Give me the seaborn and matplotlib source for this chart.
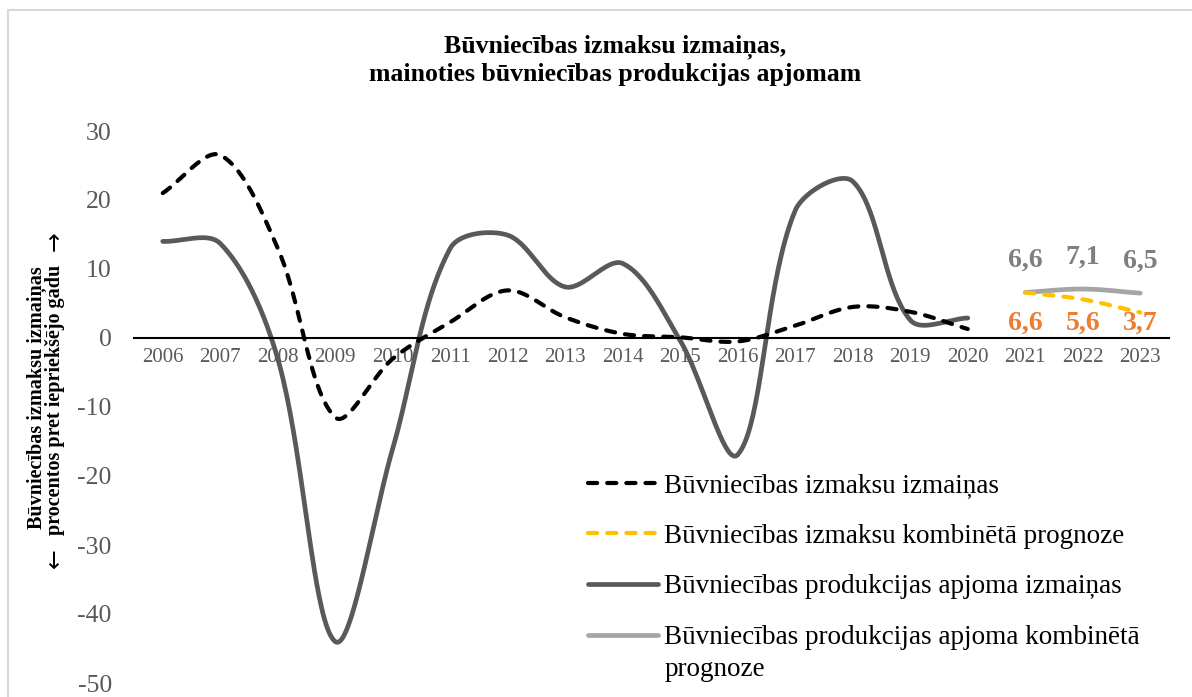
import numpy as np
import matplotlib
matplotlib.use("Agg")
import matplotlib.pyplot as plt
import seaborn as sns
from matplotlib.lines import Line2D
from matplotlib.patches import Rectangle

# Dati (procentos pret iepriekšējo gadu)
years = [str(y) for y in range(2006, 2024)]

cost_change = [21.0, 26.5, 13.0, -11.5, -3.0, 2.3, 6.9, 3.0, 0.6, 0.1,
               -0.5, 1.8, 4.5, 3.8, 1.3]          # 2006-2020
cost_forecast = [6.6, 5.6, 3.7]                   # 2021-2023
output_change = [14.0, 13.7, -3.0, -44.0, -16.0, 13.0, 14.9, 7.4, 10.8, -0.4,
                 -16.9, 18.5, 22.7, 2.6, 2.9]     # 2006-2020
output_forecast = [6.6, 7.1, 6.5]                 # 2021-2023

labels = ["Būvniecības izmaksu izmaiņas",
          "Būvniecības izmaksu kombinētā prognoze",
          "Būvniecības produkcijas apjoma izmaiņas",
          "Būvniecības produkcijas apjoma kombinētā"]
label_wrap = "prognoze"

W, H = 1192, 697
PX_X = 57.5      # pikseļi uz vienu gadu
PX_Y = 6.9       # pikseļi uz vienu procentpunktu


def smooth(values, start, n=40):
    # Excel stila gludā līnija: Bezier ar pieskarēm, kas mērogotas pēc posmu garuma
    p = np.column_stack([(start + np.arange(len(values))) * PX_X,
                         np.asarray(values, dtype=float) * PX_Y])
    m = len(p)
    xs, ys = [], []
    for i in range(m - 1):
        a, b = p[i], p[i + 1]
        pa = p[i - 1] if i > 0 else a
        nb = p[i + 2] if i + 2 < m else b
        seg = np.linalg.norm(b - a)
        la = np.linalg.norm(a - pa) + seg
        lb = seg + np.linalg.norm(nb - b)
        c1 = a + (b - pa) * (seg / la) / 3 if la > 0 else a
        c2 = b - (nb - a) * (seg / lb) / 3 if lb > 0 else b
        t = np.linspace(0, 1, n, endpoint=(i == m - 2))[:, None]
        q = (1 - t) ** 3 * a + 3 * (1 - t) ** 2 * t * c1 + 3 * (1 - t) * t ** 2 * c2 + t ** 3 * b
        xs.append(q[:, 0] / PX_X)
        ys.append(q[:, 1] / PX_Y)
    return np.concatenate(xs), np.concatenate(ys)


sns.set_theme(style="white")
plt.rcParams["font.family"] = ["Liberation Serif", "DejaVu Serif"]
plt.rcParams["axes.unicode_minus"] = False

fig = plt.figure(figsize=(W / 100, H / 100), dpi=100)
ax = fig.add_axes([134 / W, 1 - 683 / H, (1169 - 134) / W, (683 - 131) / H])

# rāmis ap diagrammu
fig.patches.append(Rectangle((8 / W, -0.1), 1.2, 1.1 - 10 / H, transform=fig.transFigure,
                             fill=False, edgecolor="#d9d9d9", lw=1.5))

dash = (0, (2.2, 2.4))
x, y = smooth(output_change, 0)
sns.lineplot(x=x, y=y, ax=ax, color="#595959", lw=3.4, sort=False, estimator=None,
             solid_capstyle="round")
x, y = smooth(output_forecast, 15)
sns.lineplot(x=x, y=y, ax=ax, color="#a5a5a5", lw=3.4, sort=False, estimator=None,
             solid_capstyle="round")
x, y = smooth(cost_change, 0)
sns.lineplot(x=x, y=y, ax=ax, color="black", lw=3.0, sort=False, estimator=None,
             linestyle=dash, dash_capstyle="round")
x, y = smooth(cost_forecast, 15)
sns.lineplot(x=x, y=y, ax=ax, color="#ffc000", lw=3.0, sort=False, estimator=None,
             linestyle=dash, dash_capstyle="round")

# datu etiķetes
for i, v in enumerate(output_forecast):
    ax.annotate(f"{v:.1f}".replace(".", ","), (15 + i, v), xytext=(0, 23),
                textcoords="offset points", ha="center", va="center",
                fontsize=20, fontweight="bold", color="#7f7f7f")
for i, v in enumerate(cost_forecast):
    ax.annotate(f"{v:.1f}".replace(".", ","), (15 + i, 0), xytext=(0, 11),
                textcoords="offset points", ha="center", va="center",
                fontsize=20, fontweight="bold", color="#ed7d31")

ax.set_xlim(-0.5, 17.5)
ax.set_ylim(-50, 30)
ax.set_xticks(range(len(years)))
ax.set_xticklabels(years)
ax.set_yticks(range(-50, 31, 10))
ax.tick_params(axis="x", length=0, pad=7, labelsize=15, labelcolor="#595959")
ax.tick_params(axis="y", length=0, pad=16, labelsize=18.5, labelcolor="#595959")
for s in ["left", "right", "top"]:
    ax.spines[s].set_visible(False)
ax.spines["bottom"].set_position(("data", 0))
ax.spines["bottom"].set_color("black")
ax.spines["bottom"].set_linewidth(1.5)
ax.set_xlabel("")
ax.set_ylabel("")
ax.grid(False)

# virsraksts
fig.text(615 / W, 1 - 47 / H, "Būvniecības izmaksu izmaiņas,", ha="center", va="center",
         fontsize=18.5, fontweight="bold", color="black")
fig.text(615 / W, 1 - 75 / H, "mainoties būvniecības produkcijas apjomam", ha="center", va="center",
         fontsize=18.5, fontweight="bold", color="black")

# Y ass nosaukums
fig.text(37 / W, 1 - 398 / H, "Būvniecības izmaksu izmaiņas", ha="center", va="center",
         rotation=90, fontsize=14.5, fontweight="bold", color="black")
fig.text(55 / W, 1 - 400 / H, "procentos pret iepriekšējo gadu", ha="center", va="center",
         rotation=90, fontsize=14.5, fontweight="bold", color="black")
fig.text(55 / W, 1 - 558 / H, "←", ha="center", va="center", rotation=90,
         fontsize=17, family="DejaVu Sans", color="black")
fig.text(55 / W, 1 - 241 / H, "→", ha="center", va="center", rotation=90,
         fontsize=17, family="DejaVu Sans", color="black")

handles = [
    Line2D([], [], color="black", lw=3.0, linestyle=dash, dash_capstyle="round"),
    Line2D([], [], color="#ffc000", lw=3.0, linestyle=dash, dash_capstyle="round"),
    Line2D([], [], color="#595959", lw=3.4, solid_capstyle="round"),
    Line2D([], [], color="#a5a5a5", lw=3.4, solid_capstyle="round"),
]
leg = ax.legend(handles, labels, loc="upper left", bbox_to_anchor=(588 / W, 1 - 473 / H),
                bbox_transform=fig.transFigure, frameon=False, fontsize=19.5, handlelength=2.6,
                handletextpad=0.2, labelspacing=0.95, borderpad=0, borderaxespad=0,
                labelcolor="black")
fig.text(665 / W, 1 - 669 / H, label_wrap, ha="left", va="center", fontsize=19.5,
         color="black")

fig.savefig("out.png", dpi=100)
